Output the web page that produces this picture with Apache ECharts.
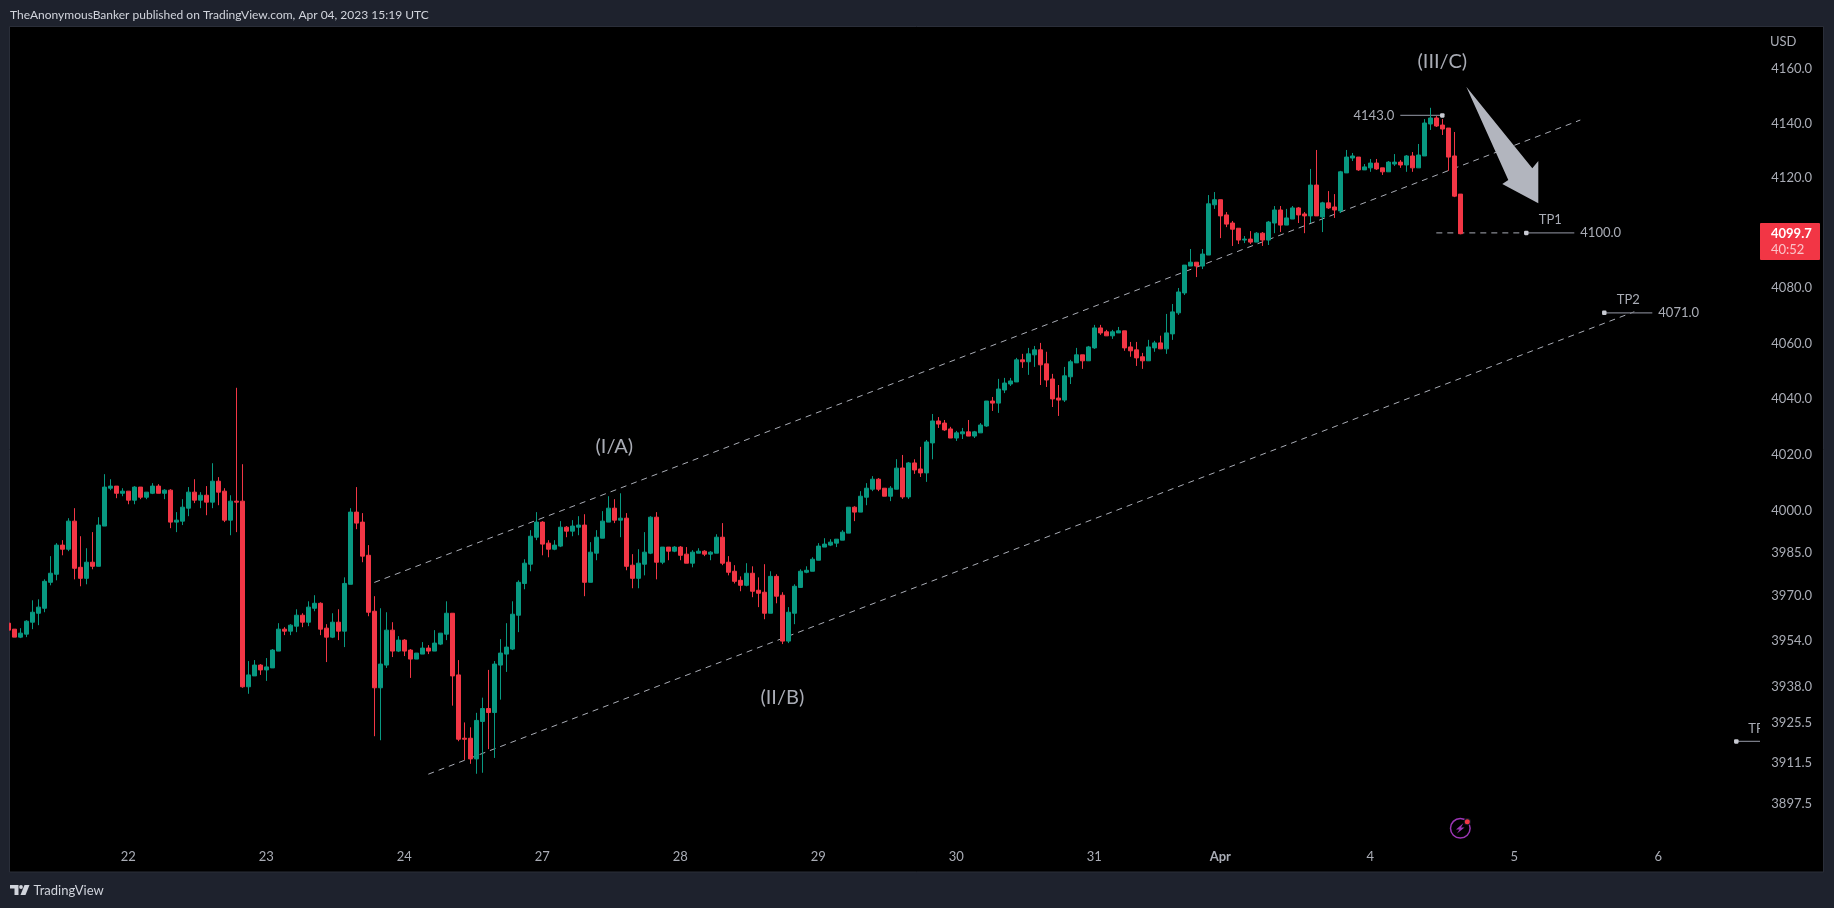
<!DOCTYPE html>
<html>
<head>
<meta charset="utf-8">
<title>ES1! TradingView snapshot</title>
<script src="https://cdn.jsdelivr.net/npm/echarts@6/dist/echarts.min.js"></script>
<style>
  html, body { margin: 0; padding: 0; background: #1e222d; }
  #chart { width: 1834px; height: 908px; }
</style>
</head>
<body>
<div id="chart"></div>
<script>
var opens = [3960.35,
	3958.25,3955.45,3956.5,3960.7,3963.85,3965.6,3974.75,3977.6,3987.9,3986.45,
	3996.4,3980.05,3976.15,3981.85,3980.4,3994.65,4008.1,4008.85,4006.3,4007.05,
	4003.85,4008.5,4004.9,4006.3,4008.85,4006.3,4007.4,3996.05,3996.4,4001,
	4006.7,4003.85,4005.6,4003.15,4010.6,4007.05,3996.75,4003.5,4003.5,3938.05,
	3941.85,3945.65,3943.95,3944.65,3950.55,3958.25,3957.55,3959.3,3963.15,3960.7,
	3965.6,3967.35,3958.6,3955.45,3960.7,3957.55,3974.05,3999.6,3996.05,3984.3,
	3964.55,3937.7,3945.65,3957.9,3950.55,3954.4,3950.9,3947.75,3949.5,3951.6,
	3950.55,3953,3956.5,3963.85,3942.2,3920.1,3920.1,3912.9,3925.95,3930.45,
	3929.05,3945.65,3949.5,3951.25,3963.15,3974.35,3981.15,3990.7,3996.05,3988.6,
	3986.45,3987.55,3994.25,3992.85,3994.25,3995,3974.75,3985.05,3990.35,3996.05,
	4001,3996.75,3997.45,3980.8,3976.15,3981.15,3985.05,3997.8,3981.85,3987.2,
	3985.75,3987.2,3984.7,3981.5,3985.05,3985.75,3984.7,3985.05,3990.7,3981.85,
	3978.65,3975.45,3973.7,3977.95,3971.95,3971.25,3963.85,3976.85,3970.2,3954.05,
	3963.85,3972.95,3978.3,3978.65,3982.55,3987.2,3987.9,3988.6,3989.65,3992.15,
	4001.35,3999.6,4004.9,4007.75,4011.3,4008.1,4005.25,4007.75,4015.3,4005,
	4017.1,4014.95,4013.55,4024.25,4032.1,4031.35,4029.25,4026,4027.5,4028.2,
	4026.7,4027.85,4030.3,4039.25,4038.5,4043.2,4045.35,4046.1,4054.05,4053.35,
	4055.85,4057.65,4052.6,4047.15,4040.3,4039.6,4047.95,4052.95,4055.85,4053.7,
	4058.35,4065.55,4064.15,4062.7,4063.75,4064.5,4058.7,4057.65,4055.15,4053.7,
	4058.35,4060.15,4058,4063.4,4071,4078.2,4087.95,4089.35,4087.95,4091.95,
	4110.25,4112.1,4106.55,4103.6,4101.7,4097.4,4097.75,4096.65,4099.9,4097.4,
	4103.6,4108.35,4102.85,4105.05,4109.1,4106.9,4106.2,4117.45,4105.8,4110.95,
	4109.45,4108,4121.9,4127.35,4127.7,4123,4123.75,4125.5,4123.75,4122.3,
	4125.15,4125.85,4124.8,4128.1,4123.75,4128.1,4139.85,4142.05,4139.45,4138.35,
	4128.1,4114.15];
var closes = [3957.9,
	3955.45,3956.85,3961.05,3964.2,3966,3975.1,3977.95,3987.9,3986.45,3996.4,
	3979.7,3976.15,3981.85,3980.4,3995,4008.5,4008.85,4006.3,4007.05,4003.85,
	4008.5,4004.9,4006.7,4008.85,4006.3,4007.4,3996.05,3996.75,4001.35,4006.7,
	4003.85,4005.6,4003.15,4010.6,4006.7,3996.75,4003.5,4003.15,3938.05,3942.2,
	3945.65,3943.95,3945,3950.9,3958.25,3957.55,3959.65,3963.15,3960.7,3966,
	3967.35,3958.25,3955.45,3960.7,3957.55,3974.35,3999.6,3995.7,3984,3964.2,
	3937.7,3946,3957.9,3950.55,3954.4,3950.55,3947.75,3949.85,3951.6,3950.55,
	3953.35,3956.85,3963.85,3941.85,3919.75,3919.75,3912.9,3926.3,3930.45,3929.05,
	3946,3949.85,3951.95,3963.5,3974.75,3981.5,3991.05,3996.05,3988.25,3986.45,
	3987.9,3994.25,3992.85,3994.65,3995,3974.75,3985.4,3990.7,3996.4,4001,
	3996.75,3997.45,3980.4,3976.15,3981.5,3985.4,3997.8,3981.85,3987.2,3985.75,
	3987.2,3984.3,3981.5,3985.4,3985.75,3984.7,3985.4,3990.7,3981.5,3978.3,
	3975.1,3973.7,3977.95,3971.6,3970.9,3963.85,3976.85,3969.85,3954.05,3964.2,
	3973.35,3978.65,3979,3982.9,3987.55,3988.25,3988.95,3990,3992.5,4001.35,
	3999.6,4005.25,4008.1,4011.3,4007.75,4005.25,4008.1,4015.25,4005,4017.1,
	4014.6,4013.55,4024.6,4032.1,4031,4028.9,4026,4027.85,4028.2,4026.7,
	4028.2,4030.65,4039.25,4038.5,4043.55,4045.7,4046.45,4054.05,4053.35,4056.2,
	4057.65,4052.25,4046.8,4040,4039.6,4048.3,4053.35,4055.85,4053.7,4058.7,
	4065.55,4063.75,4062.7,4064.15,4064.5,4058.35,4057.3,4054.75,4053.7,4058.7,
	4060.15,4058,4063.75,4071.35,4078.55,4088.3,4089.35,4087.95,4092.3,4110.6,
	4112.1,4106.2,4103.2,4101.35,4097.4,4097.75,4096.65,4099.9,4097.4,4103.95,
	4108.35,4102.85,4105.45,4109.1,4106.55,4106.2,4117.45,4106.2,4110.95,4109.1,
	4108.35,4122.3,4127.7,4128.1,4123,4124.1,4125.5,4123.35,4122.3,4125.85,
	4125.85,4124.8,4128.1,4123.75,4128.45,4140.2,4142.05,4139.1,4138,4127.7,
	4113.4,4099.7];
var lows = [3957.9,
	3955.45,3955.1,3955.45,3958.25,3959.65,3964.2,3973.7,3975.45,3984.3,3985.75,
	3975.8,3973.35,3974.05,3979.35,3980.4,3994.65,4007.4,4004.55,4005.25,4002.4,
	4002.4,4004.2,4004.2,4006,4006.3,4004.2,3993.9,3992.5,3995,3998.15,
	4002.8,4001,3998.5,4001,4002.05,3996.05,3991.4,3992.5,3937.7,3935.6,
	3941.85,3942.2,3940.1,3944.65,3950.55,3956.15,3956.15,3957.2,3958.95,3959.3,
	3964.55,3956.15,3946.7,3955.1,3954.4,3951.95,3974.05,3993.55,3981.85,3962.8,
	3920.8,3919.4,3944.65,3948.45,3950.2,3948.8,3941.15,3947.75,3949.5,3949.5,
	3950.55,3952.65,3954.4,3931.45,3919.05,3912.55,3911.2,3907.75,3908.1,3916.3,
	3913.25,3933.55,3943.25,3950.9,3957.2,3972.3,3978.65,3989.65,3984.3,3983.6,
	3986.1,3987.2,3990.7,3991.05,3991.4,3969.85,3974.75,3982.55,3990.35,3996.05,
	3995.7,3990.7,3979,3972.65,3972.65,3977.2,3984.7,3975.8,3981.15,3982.55,
	3985.4,3982.55,3981.5,3980.05,3985.05,3984,3982.55,3985.05,3980.8,3977.2,
	3974.35,3971.6,3973.35,3969.5,3966,3961.75,3963.85,3967.35,3953,3953.35,
	3960,3972.95,3977.95,3978.65,3982.55,3987.2,3987.55,3987.2,3989.65,3992.15,
	3996.4,3999.6,4002.05,4007.05,4007.05,4005.25,4003.5,4007.75,4004.3,4004.3,
	4013.2,4012.1,4010.35,4018.4,4029.6,4028.55,4026,4024.95,4025.65,4026.7,
	4026,4027.85,4030,4035.7,4035,4042.1,4044.65,4046.1,4051.15,4048.65,
	4051.5,4045,4044.3,4037.1,4033.9,4038.9,4045.35,4052.95,4050.8,4053.7,
	4058,4063.05,4062.7,4061.6,4063.75,4057.3,4055.15,4051.85,4050.8,4053.7,
	4056.95,4058,4056.2,4061.25,4070.25,4077.45,4087.95,4083.95,4086.85,4091.95,
	4108.75,4098.1,4102.1,4095.25,4095.95,4096.3,4095.95,4096.65,4095.25,4095.6,
	4099.9,4100.3,4102.85,4105.05,4103.6,4099.9,4103.6,4106.2,4100.3,4108.75,
	4105.45,4107.25,4121.9,4126.25,4122.65,4123,4122.3,4123,4121.15,4122.3,
	4124.45,4123.75,4122.3,4122.3,4123.75,4128.1,4137.65,4138.75,4135.8,4122.65,
	4113.05,4099.5];
var highs = [3960.35,
	3958.25,3958.6,3961.4,3968.4,3968.75,3975.8,3984,3988.6,3989.65,3997.45,
	4001,3991.05,3986.8,3992.5,3997.8,4013.1,4011.3,4008.85,4008.1,4007.05,
	4008.85,4008.5,4006.7,4009.9,4009.55,4007.75,4007.75,3999.6,4004.2,4008.5,
	4011.3,4006.7,4008.85,4017,4012.05,4008.1,4005.6,4044,4016.65,3947.05,
	3947.4,3946,3948.1,3951.25,3960.35,3958.95,3960,3965.25,3963.85,3968.05,
	3970.2,3967.7,3960,3963.85,3965.25,3976.5,4001,4008.5,3999.25,3987.9,
	3969.85,3965.6,3964.2,3960.7,3955.8,3954.75,3951.25,3949.85,3953.7,3952.65,
	3957.9,3956.85,3968.05,3963.85,3947.4,3925.6,3923.9,3928.95,3934.25,3943.95,
	3947.05,3954.75,3960.35,3968.05,3975.45,3982.9,3993.2,3999.6,3996.4,3989.65,
	3989.65,3996.4,3994.65,3996.75,3998.15,3998.85,3988.95,3993.2,3999.95,4005.25,
	4004.2,4006.3,3999.25,3984.7,3986.45,3992.5,3998.15,3999.6,3987.2,3987.2,
	3987.55,3987.55,3987.2,3986.1,3986.8,3986.1,3985.75,3991.75,3995.7,3984,
	3980.8,3976.85,3981.5,3980.4,3976.5,3981.15,3978.65,3977.6,3971.25,3966,
	3974.05,3979.35,3980.4,3983.6,3988.6,3990.35,3990,3990,3993.2,4001.35,
	4001.7,4007.05,4009.9,4012.4,4011.7,4008.1,4008.85,4018.45,4019.95,4017.45,
	4018.4,4022.85,4025.3,4034.6,4033.5,4032.45,4030,4028.55,4029.6,4032.45,
	4028.55,4031.35,4039.25,4040.7,4047.2,4047.55,4047.55,4054.75,4056.2,4058.35,
	4059.05,4060.15,4056.95,4049,4045,4051.5,4054.05,4058.35,4055.85,4059.05,
	4066.65,4066.65,4064.85,4064.85,4065.9,4064.5,4060.5,4060.5,4056.55,4061.25,
	4060.9,4062.75,4070.6,4074.2,4080,4088.3,4094.15,4089.35,4094.15,4113.8,
	4114.9,4112.1,4107.6,4104.35,4101.7,4098.85,4100.65,4100.3,4100.3,4104.35,
	4109.8,4109.8,4108.75,4109.8,4109.45,4107.6,4123.35,4130.3,4111.35,4115.25,
	4114.15,4122.65,4130.3,4129.2,4127.7,4125.15,4127,4127,4123.75,4126.25,
	4128.8,4126.6,4128.45,4129.55,4132.5,4141.65,4145.8,4142.75,4141.65,4138.35,
	4136.9,4114.15];

var barCount = 293;
var dayLabels = { 20: '22', 43: '23', 66: '24', 89: '27', 112: '28', 135: '29', 158: '30', 181: '31', 202: 'Apr', 227: '4', 251: '5', 275: '6' };
var priceTicks = [4160, 4140, 4120, 4080, 4060, 4040, 4020, 4000, 3985, 3970, 3954, 3938, 3925.5, 3911.5, 3897.5];

// drawings on the chart, as [bar index, price]
var channelUpper = [[60.95, 3974.7], [261.95, 4141.3]];
var channelLower = [[70, 3907.6], [270.83, 4071.4]];
var tp1Dashed = [[237.9, 4100], [252.5, 4100]];
var highLine = [[232.1, 4143], [238.9, 4143]];
var tp1Line = [[252.9, 4100], [260.7, 4100]];
var tp2Line = [[265.9, 4071], [273.8, 4071]];
var tp3Line = [[287.9, 3919], [295, 3919]];
var dots = [[238.9, 4143], [252.9, 4100], [265.9, 4071], [287.9, 3919]];
var arrowShape = [[242.8, 4153.6], [253.6, 4123.6], [254.9, 4126.3], [255.1, 4110.8], [248.8, 4117.8], [250.3, 4119.3]];
var waveLabels = [['(I/A)', 101.2, 4022.8], ['(II/B)', 129.4, 3934.4], ['(III/C)', 238.95, 4162.7]];
var centerLabels = [['TP1', 256.9, 4104.7], ['TP2', 269.95, 4075.6]];
var rightLabels = [['4100.0', 262.3, 4100], ['4071.0', 275.3, 4071], ['TP3', 289.95, 3923.3]];
var leftLabels = [['4143.0', 230.6, 4143]];

var categories = [];
for (var i = 0; i < barCount; i++) {
	categories.push(dayLabels[i] || '');
}
var candles = opens.map(function(o, i) {
	return [o, closes[i], lows[i], highs[i]];
});

var FONT = 'Lato, sans-serif';
var GREY = '#a9acb5';
var UP = '#089981';
var DOWN = '#f23645';

var lineSeries = function(points, color, dash) {
	return {
		type: 'line',
		data: points,
		symbol: 'none',
		silent: true,
		z: 3,
		lineStyle: { color: color, width: dash ? 1 : 1.3, type: dash ? [6, 5] : 'solid', opacity: 1 }
	};
};

var textSeries = function(rows, position, size) {
	return {
		type: 'scatter',
		symbolSize: 0,
		silent: true,
		z: 4,
		itemStyle: { opacity: 1 },
		data: rows.map(function(r) {
			return { value: [r[1], r[2]], name: r[0] };
		}),
		label: {
			show: true,
			position: position,
			distance: 0,
			color: GREY,
			opacity: 1,
			fontFamily: FONT,
			fontSize: size,
			formatter: '{b}'
		}
	};
};

var myChart = echarts.init(document.getElementById('chart'), null, { renderer: 'canvas' });
var option = {
	animation: false,
	backgroundColor: '#1e222d',
	grid: { left: 5.3, top: 27, width: 1758, height: 816 },
	xAxis: {
		type: 'category',
		data: categories,
		axisLine: { show: false },
		axisTick: { show: false },
		splitLine: { show: false },
		axisLabel: {
			interval: 0,
			margin: 7,
			color: GREY,
			fontFamily: FONT,
			fontSize: 13,
			formatter: function(v) {
				return v === 'Apr' ? '{b|Apr}' : v;
			},
			rich: { b: { fontWeight: 'bold', color: GREY, fontFamily: FONT, fontSize: 13 } }
		}
	},
	yAxis: {
		type: 'log',
		logBase: 10,
		position: 'right',
		min: 3883.8,
		max: 4175.65,
		axisLine: { show: false },
		axisTick: { show: false },
		splitLine: { show: false },
		minorTick: { show: false },
		axisLabel: {
			customValues: priceTicks,
			margin: 8,
			color: GREY,
			fontFamily: FONT,
			fontSize: 13,
			formatter: function(v) {
				return Number(v).toFixed(1);
			}
		}
	},
	series: [
		lineSeries(channelUpper, GREY, true),
		lineSeries(channelLower, GREY, true),
		lineSeries(tp1Dashed, GREY, true),
		{
			type: 'candlestick',
			data: candles,
			barWidth: 5,
			z: 5,
			itemStyle: { color: UP, color0: DOWN, borderColor: UP, borderColor0: DOWN, borderWidth: 1 }
		},
		lineSeries(highLine, '#787b86', false),
		lineSeries(tp1Line, '#787b86', false),
		lineSeries(tp2Line, '#787b86', false),
		lineSeries(tp3Line, '#787b86', false),
		{
			type: 'scatter',
			data: dots,
			symbol: 'roundRect',
			symbolSize: 4.5,
			silent: true,
			z: 6,
			itemStyle: { color: '#c8cad2', opacity: 1 }
		},
		{
			type: 'custom',
			data: arrowShape,
			silent: true,
			z: 7,
			renderItem: function(params, api) {
				if (params.dataIndex !== 0) {
					return;
				}
				return {
					type: 'polygon',
					shape: { points: arrowShape.map(function(p) { return api.coord(p); }) },
					style: { fill: '#b2b5be' }
				};
			}
		},
		textSeries(waveLabels, 'inside', 20),
		textSeries(centerLabels, 'inside', 13),
		textSeries(rightLabels, 'right', 13),
		textSeries(leftLabels, 'left', 13)
	],
	graphic: [
		// black pane and its thin frame
		{ type: 'rect', z: -1, shape: { x: 9.5, y: 26.5, width: 1814, height: 845.5 }, style: { fill: '#000000', stroke: '#2a2e39', lineWidth: 1 } },
		// covers for what runs past the pane or into the price scale
		{ type: 'rect', z: 50, shape: { x: 0, y: 0, width: 9, height: 908 }, style: { fill: '#1e222d' } },
		{ type: 'rect', z: 50, shape: { x: 1760, y: 27, width: 11, height: 816 }, style: { fill: '#000000' } },
		{ type: 'text', z: 60, x: 10, y: 9, style: { text: 'TheAnonymousBanker published on TradingView.com, Apr 04, 2023 15:19 UTC', fill: '#d1d4dc', font: '12px ' + FONT } },
		{ type: 'text', z: 60, x: 1770, y: 35, style: { text: 'USD', fill: GREY, font: '13px ' + FONT } },
		// last price badge
		{ type: 'rect', z: 60, shape: { x: 1760, y: 223, width: 60, height: 37, r: 1 }, style: { fill: DOWN } },
		{ type: 'text', z: 61, x: 1771, y: 227, style: { text: closes[closes.length - 1].toFixed(1), fill: '#ffffff', font: 'bold 13px ' + FONT } },
		{ type: 'text', z: 61, x: 1771, y: 243, style: { text: '40:52', fill: '#fbc4c9', font: '13px ' + FONT } },
		// watermark logo and name
		{ type: 'polygon', z: 60, shape: { points: [[10, 885], [18.5, 885], [18.5, 895], [14.5, 895], [14.5, 888.5], [10, 888.5]] }, style: { fill: '#d1d4dc' } },
		{ type: 'circle', z: 60, shape: { cx: 21, cy: 887, r: 1.9 }, style: { fill: '#d1d4dc' } },
		{ type: 'polygon', z: 60, shape: { points: [[24.5, 885], [29.5, 885], [25.5, 895], [20.5, 895]] }, style: { fill: '#d1d4dc' } },
		{ type: 'text', z: 60, x: 33.5, y: 884, style: { text: 'TradingView', fill: '#d1d4dc', font: '13px ' + FONT } },
		// lightning badge
		{ type: 'circle', z: 60, shape: { cx: 1460.3, cy: 828.3, r: 9.8 }, style: { fill: 'transparent', stroke: '#9c36b5', lineWidth: 1.5 } },
		{ type: 'polygon', z: 60, shape: { points: [[1463.5, 823], [1456, 829.5], [1459.5, 829.5], [1457, 833.5], [1464.5, 827.5], [1461, 827.5]] }, style: { fill: '#9c36b5' } },
		{ type: 'circle', z: 60, shape: { cx: 1467.3, cy: 821.7, r: 3.6 }, style: { fill: '#131722' } },
		{ type: 'circle', z: 61, shape: { cx: 1467.3, cy: 821.7, r: 2.5 }, style: { fill: DOWN } }
	]
};
myChart.setOption(option);
</script>
</body>
</html>
